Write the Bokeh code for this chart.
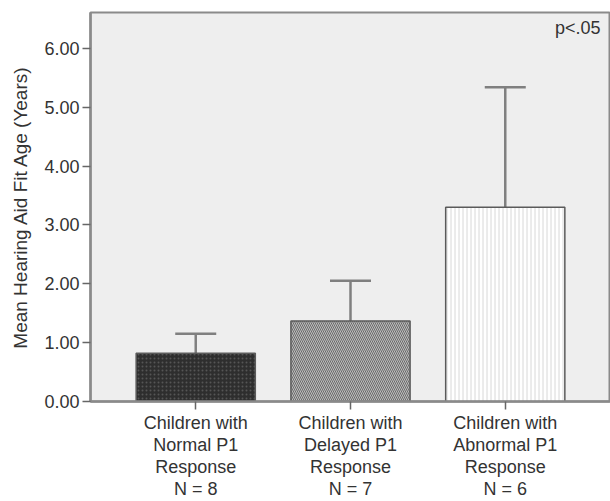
from bokeh.plotting import figure
from bokeh.models import Range1d, FixedTicker, ColumnDataSource, Whisker, TeeHead, Label, NumeralTickFormatter
from bokeh.embed import file_html
from bokeh.resources import INLINE

categories = ["Children with\nNormal P1\nResponse\nN = 8",
              "Children with\nDelayed P1\nResponse\nN = 7",
              "Children with\nAbnormal P1\nResponse\nN = 6"]
positions = [1, 2, 3]
means = [0.82, 1.37, 3.30]
upper_err = [1.15, 2.05, 5.34]
y_ticks = [0, 1, 2, 3, 4, 5, 6]

FONT = "Liberation Sans"

p = figure(width=610, height=501, output_backend="svg", toolbar_location=None,
           x_range=Range1d(0.32, 3.68), y_range=Range1d(0, 6.61),
           min_border_left=90, min_border_top=12, min_border_right=0, min_border_bottom=98)
p.background_fill_color = "#eeeeee"
p.border_fill_color = "white"
p.outline_line_color = "#8a8a8a"
p.outline_line_width = 2
p.xgrid.visible = False
p.ygrid.visible = False

fills = ["#2e2e2e", "#bdbdbd", "#ffffff"]
hatches = ["dot", "\\", "|"]
hatch_colors = ["#555555", "#6a6a6a", "#d8d8d8"]
for i in range(3):
    p.vbar(x=[positions[i]], top=[means[i]], bottom=0, width=0.77,
           fill_color=fills[i], line_color="#5a5a5a", line_width=1.5,
           hatch_pattern=hatches[i], hatch_color=hatch_colors[i],
           hatch_scale=4, hatch_weight=1)

src = ColumnDataSource(data=dict(x=positions, lower=means, upper=upper_err))
w = Whisker(source=src, base="x", lower="lower", upper="upper", dimension="height",
            line_color="#7f7f7f", line_width=2.5,
            upper_head=TeeHead(size=41, line_color="#7f7f7f", line_width=2.5),
            lower_head=None)
p.add_layout(w)

p.yaxis.ticker = FixedTicker(ticks=y_ticks)
p.yaxis.formatter = NumeralTickFormatter(format="0.00")
p.yaxis.axis_label = "Mean Hearing Aid Fit Age (Years)"
p.yaxis.axis_label_text_font = FONT
p.yaxis.axis_label_text_font_size = "19px"
p.yaxis.axis_label_text_font_style = "normal"
p.yaxis.axis_label_text_color = "#333333"
p.yaxis.axis_label_standoff = 10

p.xaxis.ticker = FixedTicker(ticks=positions)
p.xaxis.major_label_overrides = {positions[i]: categories[i] for i in range(3)}
p.xaxis.major_label_text_line_height = 1.1

for ax in (p.xaxis, p.yaxis):
    ax.axis_line_color = "#8a8a8a"
    ax.axis_line_width = 2.5
    ax.major_tick_line_color = "#666666"
    ax.major_tick_line_width = 1.5
    ax.major_tick_out = 8
    ax.major_tick_in = 0
    ax.minor_tick_line_color = None
    ax.major_label_text_font = FONT
    ax.major_label_text_font_size = "18px"
    ax.major_label_text_color = "#333333"
    ax.major_label_standoff = 3

lab = Label(x=3.615, y=6.35, text="p<.05", text_align="right", text_baseline="middle",
            text_font=FONT, text_font_size="18px", text_color="#333333")
p.add_layout(lab)

open("out.html", "w").write(file_html(p, INLINE))
